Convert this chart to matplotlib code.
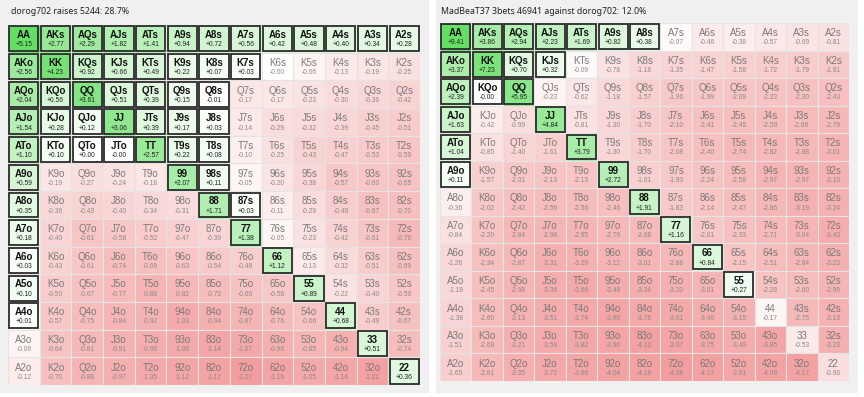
import numpy as np
import matplotlib
matplotlib.use("Agg")
import matplotlib.pyplot as plt
from matplotlib.patches import Rectangle

plt.rcParams['font.family'] = ['Liberation Sans', 'DejaVu Sans']

ranks = list("AKQJT98765432")

left_title = "dorog702 raises 5244: 28.7%"
right_title = "MadBeaT37 3bets 46941 against dorog702: 12.0%"

# EV per hand, rows/cols in rank order (upper right = suited, lower left = offsuit)
left_values = [
    [5.15, 2.77, 2.29, 1.82, 1.41, 0.94, 0.72, 0.56, 0.42, 0.48, 0.40, 0.34, 0.28],
    [2.56, 4.23, 0.92, 0.66, 0.49, 0.22, 0.07, 0.03, -0.0, -0.06, -0.13, -0.19, -0.25],
    [2.04, 0.56, 3.61, 0.51, 0.39, 0.15, -0.01, -0.17, -0.17, -0.23, -0.30, -0.36, -0.42],
    [1.54, 0.28, 0.12, 3.06, 0.39, 0.17, 0.03, -0.14, -0.29, -0.32, -0.39, -0.45, -0.51],
    [1.10, 0.10, 0.00, -0.0, 2.57, 0.22, 0.08, -0.10, -0.25, -0.43, -0.47, -0.53, -0.59],
    [0.59, -0.19, -0.27, -0.24, -0.18, 2.07, 0.11, -0.05, -0.20, -0.38, -0.57, -0.60, -0.65],
    [0.35, -0.36, -0.43, -0.40, -0.34, -0.31, 1.71, 0.03, -0.11, -0.29, -0.49, -0.67, -0.70],
    [0.18, -0.40, -0.61, -0.58, -0.52, -0.47, -0.39, 1.38, -0.05, -0.23, -0.42, -0.61, -0.79],
    [0.03, -0.43, -0.61, -0.74, -0.69, -0.63, -0.54, -0.48, 1.12, -0.13, -0.32, -0.51, -0.69],
    [0.10, -0.50, -0.67, -0.77, -0.88, -0.82, -0.73, -0.66, -0.56, 0.89, -0.22, -0.40, -0.59],
    [0.01, -0.57, -0.75, -0.84, -0.92, -1.03, -0.94, -0.87, -0.76, -0.66, 0.68, -0.49, -0.67],
    [-0.06, -0.64, -0.81, -0.91, -0.98, -1.06, -1.14, -1.07, -0.96, -0.85, -0.94, 0.51, -0.74],
    [-0.12, -0.70, -0.88, -0.97, -1.05, -1.12, -1.17, -1.27, -1.16, -1.05, -1.14, -1.21, 0.36],
]

right_values = [
    [9.41, 3.86, 2.94, 2.23, 1.69, 0.82, 0.38, -0.07, -0.46, -0.38, -0.57, -0.69, -0.81],
    [3.37, 7.23, 0.70, 0.32, -0.09, -0.78, -1.18, -1.35, -1.47, -1.58, -1.72, -1.79, -1.91],
    [2.39, -0.0, 5.95, -0.23, -0.62, -1.18, -1.57, -1.96, -1.99, -2.09, -2.23, -2.30, -2.43],
    [1.63, -0.42, -0.99, 4.84, -0.81, -1.30, -1.70, -2.10, -2.41, -2.45, -2.59, -2.66, -2.79],
    [1.04, -0.85, -1.40, -1.61, 3.79, -1.30, -1.70, -2.08, -2.40, -2.74, -2.82, -2.88, -3.01],
    [0.11, -1.57, -2.01, -2.13, -2.13, 2.72, -1.61, -1.93, -2.24, -2.58, -2.97, -2.97, -3.10],
    [-0.36, -2.02, -2.42, -2.56, -2.56, -2.46, 1.91, -1.83, -2.14, -2.47, -2.86, -3.19, -3.24],
    [-0.84, -2.20, -2.84, -2.98, -2.95, -2.79, -2.68, 1.16, -2.01, -2.33, -2.71, -3.04, -3.43],
    [-1.26, -2.34, -2.87, -3.31, -3.29, -3.12, -3.01, -2.86, 0.84, -2.15, -2.51, -2.84, -3.23],
    [-1.18, -2.45, -2.98, -3.36, -3.66, -3.48, -3.36, -3.20, -3.01, 0.27, -2.28, -2.60, -2.99],
    [-1.38, -2.60, -3.13, -3.51, -3.74, -3.90, -3.78, -3.61, -3.40, -3.15, -0.17, -2.75, -3.13],
    [-1.51, -2.68, -3.21, -3.58, -3.82, -3.90, -4.13, -3.97, -3.75, -3.49, -3.85, -0.53, -3.23],
    [-1.65, -2.81, -3.35, -3.72, -3.96, -4.04, -4.19, -4.38, -4.17, -3.91, -4.06, -4.17, -0.90],
]

left_range = ["AA", "AKs", "AQs", "AJs", "ATs", "A9s", "A8s", "A7s", "A6s", "A5s", "A4s", "A3s", "A2s",
              "AKo", "KK", "KQs", "KJs", "KTs", "K9s", "K8s", "K7s",
              "AQo", "KQo", "QQ", "QJs", "QTs", "Q9s", "Q8s",
              "AJo", "KJo", "QJo", "JJ", "JTs", "J9s", "J8s",
              "ATo", "KTo", "QTo", "JTo", "TT", "T9s", "T8s",
              "A9o", "99", "98s", "A8o", "88", "87s", "A7o", "77", "A6o", "66",
              "A5o", "55", "A4o", "44", "33", "22"]

right_range = ["AA", "AKs", "AQs", "AJs", "ATs", "A9s", "A8s",
               "AKo", "KK", "KQs", "KJs", "AQo", "KQo", "QQ", "AJo", "JJ",
               "ATo", "TT", "A9o", "99", "88", "77", "66", "55"]


def hand_name(i, j):
    if i == j:
        return ranks[i] + ranks[j]
    if j > i:
        return ranks[i] + ranks[j] + "s"
    return ranks[j] + ranks[i] + "o"


def cell_color(v, vmax, vmin):
    green = np.array([100, 222, 100]) / 255
    red = np.array([243, 158, 158]) / 255
    white = np.ones(3)
    if v >= 0:
        t = (v / vmax) ** 0.62
        return white + (green - white) * t
    t = (v / vmin) ** 0.7
    return white + (red - white) * t


def draw_grid(ax, values, in_range):
    vals = np.array(values)
    vmax, vmin = vals.max(), vals.min()
    for i in range(13):
        for j in range(13):
            v = values[i][j]
            name = hand_name(i, j)
            ax.add_patch(Rectangle((j, i), 1, 1, facecolor=cell_color(v, vmax, vmin),
                                   edgecolor="#e4e4e4", linewidth=0.8))
            if name in in_range:
                ax.add_patch(Rectangle((j + 0.04, i + 0.05), 0.92, 0.9, facecolor="none",
                                       edgecolor="#2b2b2b", linewidth=1.3, zorder=3))
                ax.text(j + 0.5, i + 0.37, name, ha="center", va="center", fontsize=7,
                        fontweight="bold", color="#111111", zorder=4)
                ax.text(j + 0.5, i + 0.72, f"{v:+.2f}", ha="center", va="center",
                        fontsize=4.8, color="#222222", zorder=4)
            else:
                ax.text(j + 0.5, i + 0.37, name, ha="center", va="center", fontsize=7,
                        color="#7a7a7a", zorder=4)
                ax.text(j + 0.5, i + 0.72, f"{v:+.2f}", ha="center", va="center",
                        fontsize=4.8, color="#8a8a8a", zorder=4)
    ax.set_xlim(0, 13)
    ax.set_ylim(13, 0)
    ax.axis("off")


fig = plt.figure(figsize=(8.64, 3.97), dpi=100, facecolor="white")

# light grey panels behind each chart
fig.patches.append(Rectangle((0, 0.01), 0.4965, 0.99, transform=fig.transFigure,
                             facecolor="#f0f0f0", edgecolor="none", zorder=-5))
fig.patches.append(Rectangle((0.5046, 0.01), 0.4885, 0.99, transform=fig.transFigure,
                             facecolor="#f0f0f0", edgecolor="none", zorder=-5))

ax1 = fig.add_axes([8 / 864, 1 - 385 / 397, 412 / 864, 360 / 397])
draw_grid(ax1, left_values, left_range)
ax2 = fig.add_axes([440 / 864, 1 - 381 / 397, 409 / 864, 358 / 397])
draw_grid(ax2, right_values, right_range)

fig.text(11 / 864, 1 - 12 / 397, left_title, ha="left", va="center", fontsize=6.3,
         family=["Noto Sans", "DejaVu Sans"], color="#222222")
fig.text(441 / 864, 1 - 12 / 397, right_title, ha="left", va="center", fontsize=6.3,
         family=["Noto Sans", "DejaVu Sans"], color="#222222")

fig.savefig("out.png", dpi=100, facecolor=fig.get_facecolor())
